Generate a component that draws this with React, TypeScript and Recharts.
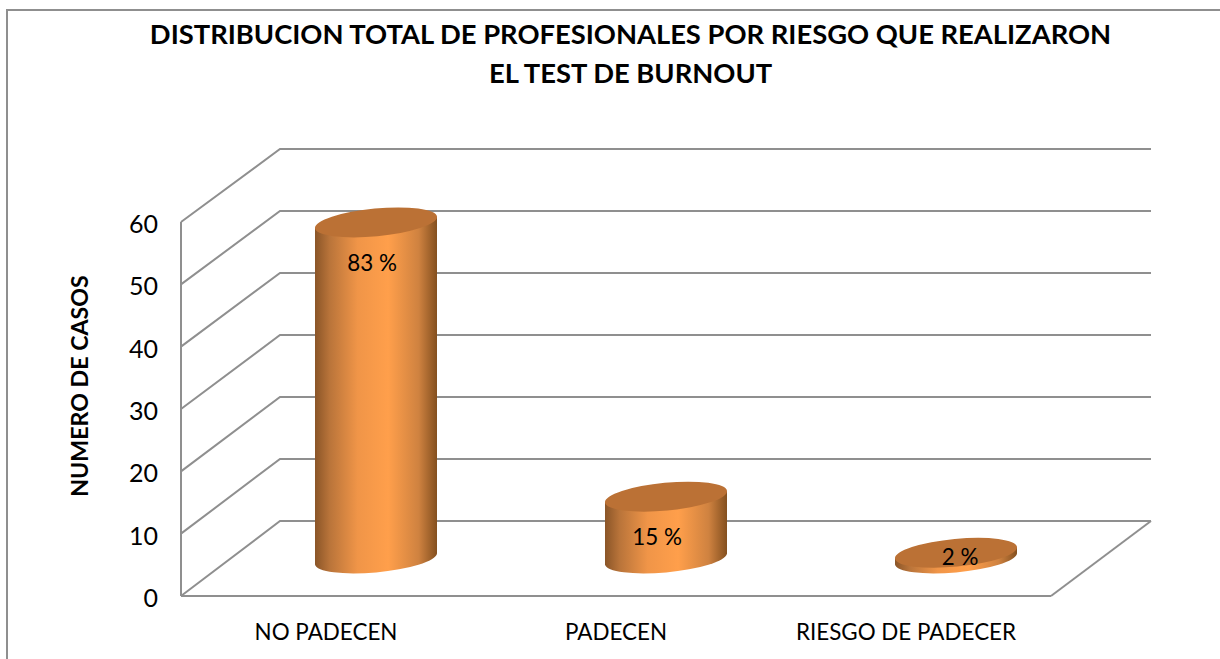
import { BarChart, Bar, XAxis, YAxis, CartesianGrid, LabelList, Label } from 'recharts'

const categories = ['NO PADECEN', 'PADECEN', 'RIESGO DE PADECER']
const casos = [54, 10, 1]
const porcentajes = ['83 %', '15 %', '2 %']
const yTicks = [0, 10, 20, 30, 40, 50, 60]
const titleLines = [
  'DISTRIBUCION TOTAL DE PROFESIONALES POR RIESGO QUE REALIZARON',
  'EL TEST DE BURNOUT',
]

const data = categories.map((name, i) => ({ name, casos: casos[i], pct: porcentajes[i] }))

const FONT = 'Lato, "Open Sans", sans-serif'
const LINE = '#8f8f8f'

// profundidad de la caja 3D
const WALL_DX = 99
const WALL_DY = -75
const FLOOR_Y = 596
// la pared del fondo es un poco mas baja que la del frente
const WALL_SCALE = 372 / 374
// las barras van a media profundidad
const BAR_DX = 50
const BAR_DY = -37
// elipse inclinada de los cilindros
const RX = 61.3
const RY = 13.9
const TILT = -5.4
const TAN_X = 61
const TAN_Y = 5.5

// ajuste de cada etiqueta respecto al centro de la tapa
const labelNudge = [
  { dx: -4, dy: 40 },
  { dx: -9, dy: 40 },
  { dx: 4, dy: 4 },
]

function GridLine(props: any) {
  const { x1, y1, x2, index } = props
  const bx = x1 + WALL_DX
  const by = FLOOR_Y + WALL_DY + (y1 - FLOOR_Y) * WALL_SCALE
  return (
    <g>
      <path d={`M${x1},${y1} L${bx},${by} L${x2 + WALL_DX + 1},${by}`} fill="none" stroke={LINE} strokeWidth={2} />
      {index === 0 && (
        <path d={`M${x2},${y1} L${x2 + WALL_DX + 1},${by}`} fill="none" stroke={LINE} strokeWidth={2} />
      )}
    </g>
  )
}

function Cylinder(props: any) {
  const { x, y, width, height } = props
  const cx = x + width / 2 + BAR_DX
  const top = y + BAR_DY
  const bottom = y + height + BAR_DY
  const body =
    `M${cx - TAN_X},${top + TAN_Y} L${cx - TAN_X},${bottom + TAN_Y} ` +
    `A${RX},${RY} ${TILT} 0 0 ${cx + TAN_X},${bottom - TAN_Y} ` +
    `L${cx + TAN_X},${top - TAN_Y} Z`
  return (
    <g>
      <path d={body} fill="url(#cilindro)" />
      <ellipse
        cx={cx}
        cy={top}
        rx={RX}
        ry={RY}
        fill="#bb7135"
        transform={`rotate(${TILT} ${cx} ${top})`}
      />
    </g>
  )
}

function PctLabel(props: any) {
  const { x, y, width, index, value } = props
  const n = labelNudge[index]
  return (
    <text
      x={x + width / 2 + BAR_DX + n.dx}
      y={y + BAR_DY + n.dy}
      textAnchor="middle"
      dominantBaseline="central"
      fontFamily={FONT}
      fontSize={22.4}
      fill="#000"
    >
      {value}
    </text>
  )
}

export default function App() {
  return (
    <div style={{ position: 'absolute', left: 0, top: 0, width: 1220, height: 659, overflow: 'hidden', background: '#fff' }}>
      <div
        style={{
          position: 'absolute',
          left: 6,
          top: 9,
          width: 1300,
          height: 700,
          border: `2px solid ${LINE}`,
          boxSizing: 'border-box',
        }}
      />
      <div
        style={{
          position: 'absolute',
          left: 0,
          width: 1261,
          top: 14,
          textAlign: 'center',
          fontFamily: FONT,
          fontWeight: 700,
          fontSize: 27.35,
          lineHeight: '39px',
          color: '#000',
          whiteSpace: 'nowrap',
        }}
      >
        {titleLines.map(t => (
          <div key={t}>{t}</div>
        ))}
      </div>
      <div style={{ position: 'absolute', left: 0, top: 0 }}>
        <BarChart
          width={1220}
          height={659}
          data={data}
          barSize={122}
          margin={{ top: 222, right: 169, bottom: 0, left: 0 }}
        >
          <defs>
            <linearGradient id="cilindro" x1="0" y1="0" x2="1" y2="0">
              <stop offset="0%" stopColor="#8a5528" />
              <stop offset="12%" stopColor="#b9743a" />
              <stop offset="35%" stopColor="#f09548" />
              <stop offset="60%" stopColor="#ff9f4b" />
              <stop offset="85%" stopColor="#cf8240" />
              <stop offset="100%" stopColor="#84501f" />
            </linearGradient>
          </defs>
          <CartesianGrid vertical={false} horizontal={(p: any) => <GridLine key={p.key} {...p} />} />
          <XAxis
            dataKey="name"
            height={63}
            axisLine={{ stroke: LINE, strokeWidth: 2 }}
            tickLine={false}
            interval={0}
            tick={{ fontFamily: FONT, fontSize: 22.4, fill: '#000' }}
            tickMargin={22}
          />
          <YAxis
            width={181}
            domain={[0, 60]}
            ticks={yTicks}
            axisLine={{ stroke: LINE, strokeWidth: 2 }}
            tickLine={false}
            tick={{ fontFamily: FONT, fontSize: 25, fill: '#000', dy: 2 }}
            tickMargin={17}
          >
            <Label
              value="NUMERO DE CASOS"
              angle={-90}
              position={{ x: 88, y: 164 }}
              textAnchor="middle"
              style={{ fontFamily: FONT, fontSize: 23.2, fontWeight: 700, fill: '#000', textAnchor: 'middle' }}
            />
          </YAxis>
          <Bar dataKey="casos" shape={<Cylinder />} isAnimationActive={false}>
            <LabelList dataKey="pct" content={<PctLabel />} />
          </Bar>
        </BarChart>
      </div>
    </div>
  )
}
